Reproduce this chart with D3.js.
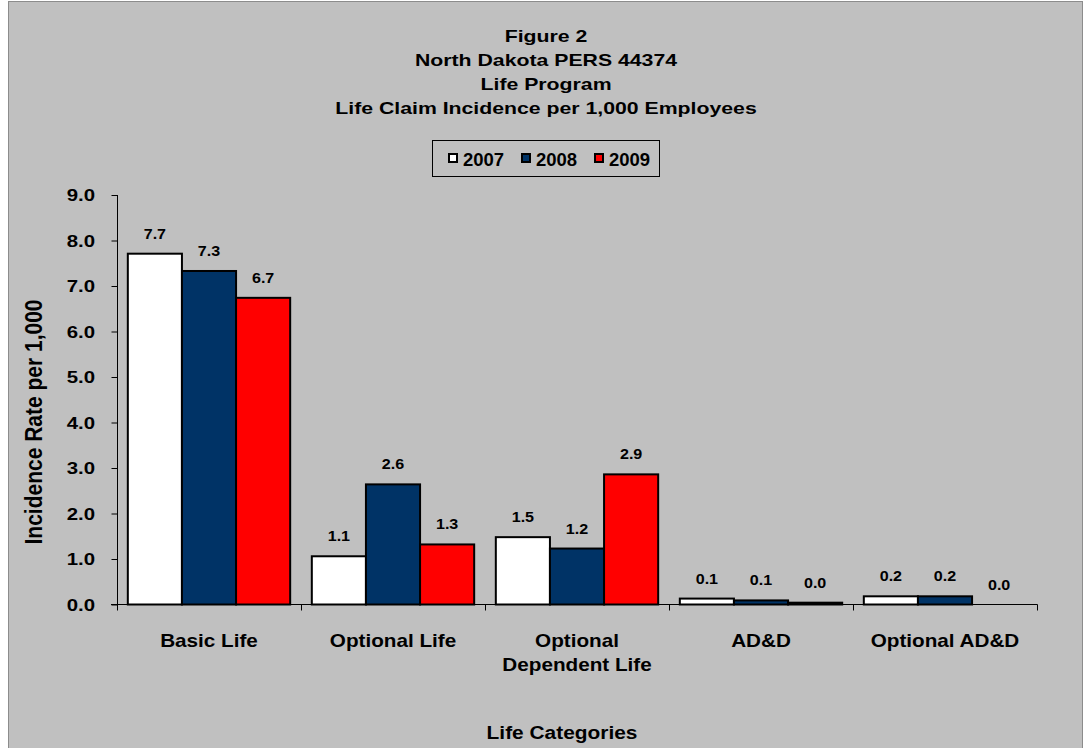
<!DOCTYPE html>
<html>
<head>
<meta charset="utf-8">
<script src="https://cdn.jsdelivr.net/npm/d3@7/dist/d3.min.js"></script>
<style>
  html, body { margin: 0; padding: 0; background: #ffffff; }
  svg { display: block; }
  text { font-family: "Liberation Sans", Arial, Helvetica, sans-serif; font-weight: bold; fill: #000; }
</style>
</head>
<body>
<svg id="chart" width="1089" height="748"></svg>
<script>
// Chart data
const titleLines = ["Figure 2", "North Dakota PERS 44374", "Life Program", "Life Claim Incidence per 1,000 Employees"];
const categories = ["Basic Life", "Optional Life", "Optional\nDependent Life", "AD&D", "Optional AD&D"];
const seriesNames = ["2007", "2008", "2009"];
const seriesColors = ["#FFFFFF", "#003366", "#FF0000"];
const values2007 = [7.71, 1.06, 1.48, 0.13, 0.18];
const values2008 = [7.33, 2.64, 1.23, 0.09, 0.18];
const values2009 = [6.74, 1.32, 2.86, 0.04, 0.0];
const yTicks = [0, 1, 2, 3, 4, 5, 6, 7, 8, 9];
const yAxisTitle = "Incidence Rate per 1,000";
const xAxisTitle = "Life Categories";

const seriesValues = [values2007, values2008, values2009];

const svg = d3.select("#chart");

// Outer chart area
svg.append("rect")
  .attr("x", 8.5).attr("y", 1.5)
  .attr("width", 1074).attr("height", 760)
  .attr("fill", "#C0C0C0")
  .attr("stroke", "#8C8C8C").attr("stroke-width", 1);

// Text helper: bold text with a horizontal stretch along its baseline
function label(parent, x, y, str, size, anchor, sx, rot, sy) {
  const t = parent.append("text")
    .attr("transform", `translate(${x},${y})` + (rot ? ` rotate(${rot})` : "") + ` scale(${sx || 1},${sy || 1})`)
    .attr("text-anchor", anchor || "middle")
    .style("font-size", size + "px")
    .text(str);
  return t;
}

// Title
const titleG = svg.append("g");
titleLines.forEach((line, i) => {
  label(titleG, 546, 42 + i * 24, line, 17, "middle", 1.25);
});

// Scales
const plotLeft = 117, plotRight = 1037;
const y = d3.scaleLinear().domain([0, 9]).range([604.5, 195]);
const x0 = d3.scaleBand().domain(categories).range([plotLeft, plotRight]).paddingInner(0).paddingOuter(0);
const x1 = d3.scaleBand().domain(seriesNames).range([0, x0.bandwidth()]).paddingInner(0).paddingOuter(0.2);

// Y axis
const yAxis = d3.axisLeft(y).tickValues(yTicks).tickSize(6).tickFormat("");
const yAxisG = svg.append("g").attr("transform", `translate(${plotLeft + 0.5},0)`).call(yAxis);
yAxisG.select(".domain").attr("stroke", "#000").attr("d", `M0,${y(9)}V${y(0) + 6}`);
yAxisG.selectAll(".tick line").attr("stroke", "#000");

// Y tick labels
const yLabG = svg.append("g");
yTicks.forEach(v => {
  label(yLabG, 95, y(v) + 6, d3.format(".1f")(v), 17, "end", 1.2);
});

// X axis with ticks at category boundaries
const boundaries = categories.map(c => x0(c)).concat([plotRight]);
const xAxisG = svg.append("g");
xAxisG.append("line")
  .attr("x1", plotLeft - 6).attr("x2", plotRight + 0.5)
  .attr("y1", y(0)).attr("y2", y(0))
  .attr("stroke", "#000");
xAxisG.selectAll("line.tick").data(boundaries.slice(1)).join("line")
  .attr("class", "tick")
  .attr("x1", d => Math.round(d) + 0.5).attr("x2", d => Math.round(d) + 0.5)
  .attr("y1", y(0)).attr("y2", y(0) + 6)
  .attr("stroke", "#000");

// Bars
const groups = svg.append("g").selectAll("g")
  .data(categories)
  .join("g")
  .attr("transform", d => `translate(${x0(d)},0)`);

groups.each(function(cat, ci) {
  const g = d3.select(this);
  const rows = seriesNames.map((s, si) => ({ s, si, v: seriesValues[si][ci] }));
  g.selectAll("rect")
    .data(rows.filter(r => r.v > 0))
    .join("rect")
    .attr("x", r => x1(r.s))
    .attr("y", r => y(r.v))
    .attr("width", x1.bandwidth())
    .attr("height", r => y(0) - y(r.v))
    .attr("fill", r => seriesColors[r.si])
    .attr("stroke", "#000")
    .attr("stroke-width", 2);
  rows.forEach(r => {
    label(g, x1(r.s) + x1.bandwidth() / 2, y(r.v) - 15, d3.format(".1f")(r.v), 14, "middle", 1.15);
  });
});

// Category labels
const catG = svg.append("g");
categories.forEach(c => {
  const cx = x0(c) + x0.bandwidth() / 2;
  c.split("\n").forEach((line, i) => {
    label(catG, cx, 647 + i * 24, line, 18, "middle", 1.15);
  });
});

// Axis titles
label(svg, 562, 739, xAxisTitle, 18, "middle", 1.16);
label(svg, 42, 422, yAxisTitle, 21, "middle", 1, -90, 1.13);

// Legend
const legend = svg.append("g");
legend.append("rect")
  .attr("x", 432.5).attr("y", 140.5)
  .attr("width", 227).attr("height", 36)
  .attr("fill", "none").attr("stroke", "#000").attr("stroke-width", 1);
const legendX = [449, 522, 595];
seriesNames.forEach((s, i) => {
  legend.append("rect")
    .attr("x", legendX[i]).attr("y", 154)
    .attr("width", 8).attr("height", 8)
    .attr("fill", seriesColors[i])
    .attr("stroke", "#000").attr("stroke-width", 2);
  label(legend, legendX[i] + 14, 166, s, 18.5, "start", 1);
});
</script>
</body>
</html>
